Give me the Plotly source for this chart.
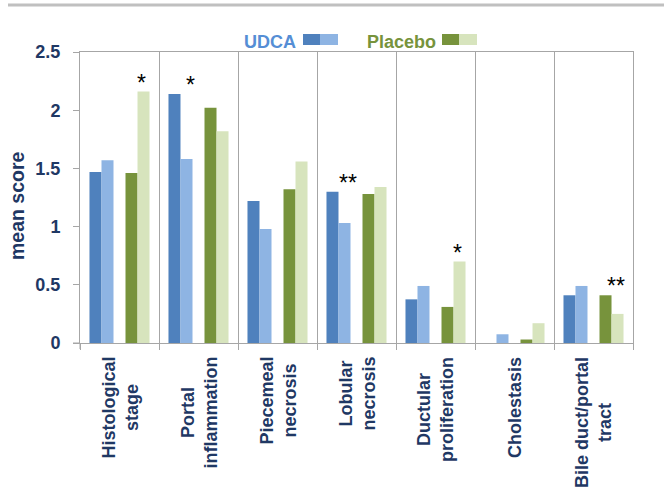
import plotly.graph_objects as go

# Histology scores per category, baseline (dark) and follow-up (light)
categories = [
    "Histological<br>stage",
    "Portal<br>inflammation",
    "Piecemeal<br>necrosis",
    "Lobular<br>necrosis",
    "Ductular<br>proliferation",
    "Cholestasis",
    "Bile duct/portal<br>tract",
]
udca_before = [1.47, 2.14, 1.22, 1.30, 0.375, 0.0, 0.41]
udca_after = [1.57, 1.58, 0.98, 1.03, 0.49, 0.075, 0.49]
placebo_before = [1.46, 2.02, 1.32, 1.28, 0.31, 0.03, 0.41]
placebo_after = [2.16, 1.82, 1.56, 1.34, 0.70, 0.17, 0.25]

# Significance markers: category index, group, marker text
sig_category = [0, 1, 3, 4, 6]
sig_group = ["Placebo", "UDCA", "UDCA", "Placebo", "Placebo"]
sig_text = ["*", "*", "**", "*", "**"]

y_ticks = [0, 0.5, 1, 1.5, 2, 2.5]

NAVY = "#1F3864"
GRID = "#A6A6A6"
FONT = "Liberation Sans, Arial, sans-serif"

C_UDCA_D = "#4F81BD"
C_UDCA_L = "#8EB4E3"
C_PLA_D = "#77933C"
C_PLA_L = "#D7E4BD"

slot = 0.152
series = [
    (udca_before, C_UDCA_D, -2.5 * slot),
    (udca_after, C_UDCA_L, -1.5 * slot),
    (placebo_before, C_PLA_D, 0.5 * slot),
    (placebo_after, C_PLA_L, 1.5 * slot),
]

xpos = list(range(len(categories)))

fig = go.Figure()
for vals, col, off in series:
    fig.add_trace(go.Bar(
        x=xpos, y=vals, width=slot, offset=off,
        marker=dict(color=col, line=dict(width=0)),
        showlegend=False, hoverinfo="y",
    ))

annotations = []

# Category labels, rotated, lines centred
for i, lab in enumerate(categories):
    annotations.append(dict(
        x=i, xref="x", y=0, yref="paper", text=lab, textangle=-90,
        showarrow=False, xanchor="center", yanchor="top", yshift=-12,
        align="center",
        font=dict(family=FONT, size=18, color=NAVY, weight="bold"),
    ))

# Significance asterisks above the relevant pair
for ci, grp, txt in zip(sig_category, sig_group, sig_text):
    if grp == "UDCA":
        top = max(udca_before[ci], udca_after[ci])
        xc = ci - 1.5 * slot + slot * 0.5
    else:
        top = max(placebo_before[ci], placebo_after[ci])
        xc = ci + 1.5 * slot
    annotations.append(dict(
        x=xc, xref="x", y=top, yref="y", text=txt, showarrow=False,
        xanchor="center", yanchor="bottom", xshift=4, yshift=-6,
        font=dict(family=FONT, size=23, color="black"),
    ))


def px_x(p):
    return (p - 80) / 553


def px_y(p):
    return (343 - p) / 291


# Y-axis title
annotations.append(dict(
    x=px_x(17), xref="paper", y=px_y(206), yref="paper", text="mean score",
    textangle=-90, showarrow=False, xanchor="center", yanchor="middle",
    font=dict(family=FONT, size=19.5, color=NAVY, weight="bold"),
))

# Legend: group names with paired swatches
annotations.append(dict(
    x=px_x(270), xref="paper", y=px_y(42), yref="paper",
    text="UDCA", showarrow=False, xanchor="center", yanchor="middle",
    font=dict(family=FONT, size=18, color="#558ED5", weight="bold"),
))
annotations.append(dict(
    x=px_x(401), xref="paper", y=px_y(42), yref="paper",
    text="Placebo", showarrow=False, xanchor="center", yanchor="middle",
    font=dict(family=FONT, size=18, color=C_PLA_D, weight="bold"),
))

shapes = []
for x0, x1, col in [(303, 320, C_UDCA_D), (320, 338, C_UDCA_L),
                    (442, 459, C_PLA_D), (459, 477, C_PLA_L)]:
    shapes.append(dict(type="rect", xref="paper", yref="paper",
                       x0=px_x(x0), x1=px_x(x1), y0=px_y(45), y1=px_y(34),
                       fillcolor=col, line=dict(width=0)))

# Grey rule across the top of the page
shapes.append(dict(type="line", xref="paper", yref="paper",
                   x0=px_x(8), x1=px_x(664), y0=px_y(5), y1=px_y(5),
                   line=dict(color="#C0C0C0", width=3)))

# Short axis stubs where the two axes cross
shapes.append(dict(type="line", xref="paper", yref="paper",
                   x0=px_x(73), x1=px_x(80), y0=0, y1=0,
                   line=dict(color=GRID, width=1)))
shapes.append(dict(type="line", xref="paper", yref="paper",
                   x0=0, x1=0, y0=0, y1=px_y(349),
                   line=dict(color=GRID, width=1)))

fig.update_layout(
    width=664, height=489,
    margin=dict(l=80, r=31, t=52, b=146, autoexpand=False),
    paper_bgcolor="white", plot_bgcolor="white",
    barmode="overlay",
    annotations=annotations,
    shapes=shapes,
    font=dict(family=FONT, color=NAVY),
    xaxis=dict(
        range=[-0.5, len(categories) - 0.5],
        tickmode="array", tickvals=[i - 0.5 for i in range(len(categories) + 1)],
        showticklabels=False, automargin=False,
        ticks="outside", ticklen=6, tickcolor=GRID, tickwidth=1,
        showgrid=True, gridcolor=GRID, gridwidth=1,
        showline=True, linecolor=GRID, linewidth=1, mirror=True,
        zeroline=False,
    ),
    yaxis=dict(
        range=[0, 2.5], tickvals=y_ticks, automargin=False,
        ticks="outside", ticklen=6, tickcolor=GRID, tickwidth=1,
        ticklabelstandoff=9,
        showgrid=False, zeroline=False,
        showline=True, linecolor=GRID, linewidth=1, mirror=True,
        tickfont=dict(family=FONT, size=18, color=NAVY, weight="bold"),
    ),
)

fig.write_html("out.html")
